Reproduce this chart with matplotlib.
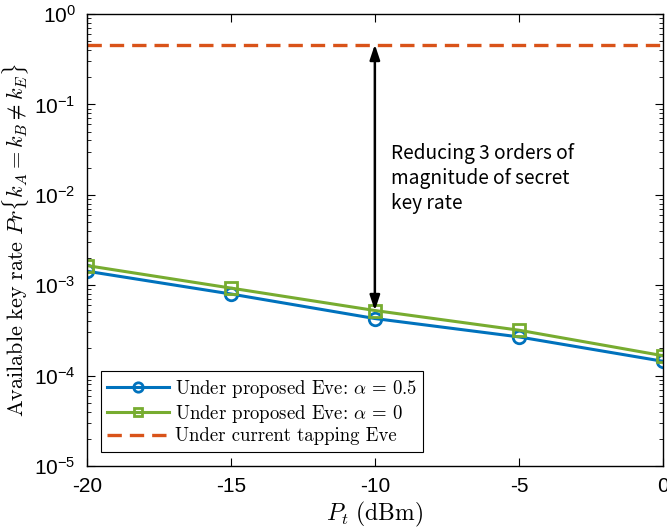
import numpy as np
import matplotlib
matplotlib.use('Agg')
import matplotlib.pyplot as plt
from matplotlib.ticker import FixedLocator, LogLocator, NullFormatter

# Данные
pt_dbm = [-20, -15, -10, -5, 0]
rate_alpha05 = [1.43e-3, 8.0e-4, 4.28e-4, 2.68e-4, 1.44e-4]
rate_alpha0 = [1.65e-3, 9.3e-4, 5.25e-4, 3.18e-4, 1.66e-4]
rate_tapping = 0.46
arrow_x = -10
y_ticks = [1e-5, 1e-4, 1e-3, 1e-2, 1e-1, 1e0]
y_tick_labels = ['10$^{-5}$', '10$^{-4}$', '10$^{-3}$', '10$^{-2}$', '10$^{-1}$', '10$^{0}$']
x_ticks = [-20, -15, -10, -5, 0]
x_tick_labels = ['-20', '-15', '-10', '-5', '0']

plt.rcParams['mathtext.fontset'] = 'cm'
plt.rcParams['mathtext.rm'] = 'Liberation Sans'
plt.rcParams['mathtext.it'] = 'Liberation Sans:italic'
plt.rcParams['mathtext.bf'] = 'Liberation Sans:bold'
plt.rcParams['axes.unicode_minus'] = False

blue = '#0072BD'
green = '#77AC30'
orange = '#D95319'

fig = plt.figure(figsize=(6.67, 5.31), dpi=100)
ax = fig.add_axes([0.130, 0.1224, 0.864, 0.8512])

ax.semilogy(pt_dbm, rate_alpha05, color=blue, lw=2.2, marker='o', markersize=9,
            markerfacecolor='none', markeredgewidth=2,
            label=r'Under proposed Eve: $\alpha\,=\,0.5$')
ax.semilogy(pt_dbm, rate_alpha0, color=green, lw=2.2, marker='s', markersize=8,
            markerfacecolor='none', markeredgewidth=2,
            label=r'Under proposed Eve: $\alpha\,=\,0$')
ax.plot([pt_dbm[0], pt_dbm[-1]], [rate_tapping, rate_tapping], color=orange, lw=2.4,
        dashes=(4.3, 2.4), label='Under current tapping Eve')

# Двойная стрелка между кривыми
ax.annotate('', xy=(arrow_x, rate_alpha0[2]), xytext=(arrow_x, rate_tapping),
            arrowprops=dict(arrowstyle='<|-|>,head_length=0.9,head_width=0.3',
                            color='black', lw=1.8, shrinkA=0, shrinkB=0))
ax.text(-9.45, 0.0061, 'Reducing 3 orders of\nmagnitude of secret\nkey rate',
        family=['Noto Sans CJK SC', 'DejaVu Sans'], fontsize=13.8,
        va='bottom', ha='left', linespacing=1.25)

ax.set_xlim(-20, 0)
ax.set_ylim(1e-5, 1e0)
ax.xaxis.set_major_locator(FixedLocator(x_ticks))
ax.set_xticklabels(x_tick_labels)
ax.yaxis.set_major_locator(FixedLocator(y_ticks))
ax.yaxis.set_minor_locator(LogLocator(base=10, subs=np.arange(2, 10), numticks=20))
ax.yaxis.set_minor_formatter(NullFormatter())
ax.set_yticklabels(y_tick_labels)
for lbl in ax.get_xticklabels() + ax.get_yticklabels():
    lbl.set_family('Liberation Sans')
    lbl.set_fontsize(15)
    lbl.set_math_fontfamily('custom')

ax.tick_params(which='both', direction='in', top=True, right=True)
ax.tick_params(which='major', length=6, width=0.8, pad=8)
ax.tick_params(which='minor', length=3, width=0.6)
for s in ax.spines.values():
    s.set_linewidth(1.0)

ax.set_xlabel(r'$P_t\ \mathrm{(dBm)}$', fontsize=17, labelpad=3)
ax.set_ylabel(r'$\mathrm{Available\ key\ rate}\ Pr\{k_A = k_B \neq k_E\}$', fontsize=16)
ax.yaxis.set_label_coords(-0.097, 0.5)

leg = ax.legend(loc='lower left', handlelength=3.3, handletextpad=0.3,
                labelspacing=0.15, borderpad=0.35, fancybox=False, framealpha=1,
                edgecolor='black', borderaxespad=0.75, markerscale=0.75,
                prop={'family': 'cmr10', 'size': 13.5})
leg.get_frame().set_linewidth(0.8)

fig.savefig('out.png', dpi=100)
